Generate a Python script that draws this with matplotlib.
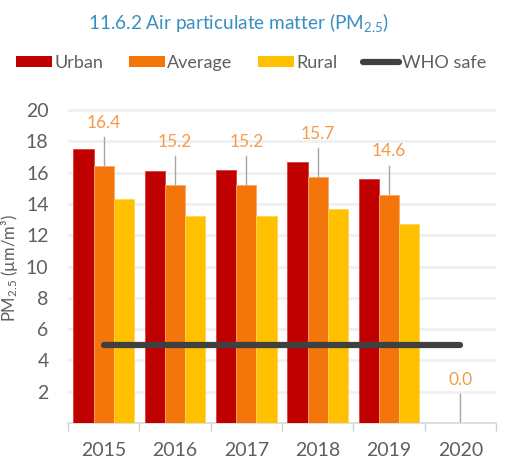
import matplotlib
matplotlib.use("Agg")
import matplotlib.pyplot as plt
import numpy as np
from matplotlib.patches import Patch
from matplotlib.lines import Line2D

years = ["2015", "2016", "2017", "2018", "2019", "2020"]
urban = [17.5, 16.1, 16.15, 16.65, 15.6, 0.0]
average = [16.4, 15.2, 15.2, 15.7, 14.6, 0.0]
rural = [14.3, 13.2, 13.25, 13.7, 12.7, 0.0]
who_safe = 5.0
yticks = [2, 4, 6, 8, 10, 12, 14, 16, 18, 20]

FONT = "Lato"
plt.rcParams["font.family"] = [FONT, "DejaVu Sans"]
plt.rcParams["mathtext.fontset"] = "custom"
plt.rcParams["mathtext.rm"] = FONT
plt.rcParams["mathtext.it"] = FONT

c_urban = "#C00000"
c_avg = "#F4760B"
c_rural = "#FFC000"
c_who = "#404040"
c_text = "#5F5F5F"
c_label = "#F79A4A"
c_title = "#3A8FC0"

fig = plt.figure(figsize=(5.10, 4.61), dpi=100)
ax = fig.add_axes([68 / 510, 1 - 423 / 461, (496 - 68) / 510, (423 - 102.2) / 461])

x = np.arange(len(years))
w = 0.285
ax.bar(x - w, urban, w, color=c_urban, edgecolor="#D84040", linewidth=0.6, zorder=3)
ax.bar(x, average, w, color=c_avg, edgecolor="#F9A869", linewidth=0.6, zorder=3)
ax.bar(x + w, rural, w, color=c_rural, edgecolor="#FFD45A", linewidth=0.6, zorder=3)

ax.plot([x[0], x[-1]], [who_safe, who_safe], color=c_who, lw=4.5,
        solid_capstyle="round", zorder=4)

off = 2.75
for xi, v in zip(x, average):
    ax.plot([xi, xi], [v, v + off - 0.9], color="#A6A6A6", lw=1.0, zorder=2)
    ax.text(xi, v + off, f"{v:.1f}", ha="center", va="center",
            color=c_label, fontsize=12.5, zorder=5)

ax.set_xlim(-0.5, len(years) - 0.5)
ax.set_ylim(0, 20.5)
ax.set_yticks(yticks)
ax.set_yticklabels([str(t) for t in yticks])
ax.yaxis.grid(True, color="#F0F0F0", lw=2.0, zorder=0)
ax.set_axisbelow(True)
ax.tick_params(axis="y", length=0, pad=14, labelsize=14, labelcolor=c_text)

ax.set_xticks(x)
ax.set_xticklabels(years)
ax.set_xticks(np.arange(-0.5, len(years)), minor=True)
ax.tick_params(axis="x", which="major", length=0, pad=14, labelsize=14, labelcolor=c_text)
ax.tick_params(axis="x", which="minor", length=6, color="#D0D0D0", width=1)

for s in ["top", "right", "left"]:
    ax.spines[s].set_visible(False)
ax.spines["bottom"].set_color("#D9D9D9")
ax.spines["bottom"].set_linewidth(1.2)

ax.set_ylabel("PM$_{2.5}$ (µm/m³)", fontsize=12, color=c_text)
ax.yaxis.set_label_coords((20 - 68) / 428, (423 - 268) / (423 - 102.2))

fig.text(238 / 510, 1 - 23 / 461, "11.6.2 Air particulate matter (PM$_{2.5}$)",
         ha="center", va="center", fontsize=13.7, color=c_title)

handles = [
    Patch(facecolor=c_urban, edgecolor="none"),
    Patch(facecolor=c_avg, edgecolor="none"),
    Patch(facecolor=c_rural, edgecolor="none"),
    Line2D([0], [0], color=c_who, lw=4.5, solid_capstyle="round"),
]
labels = ["Urban", "Average", "Rural", "WHO safe"]
leg = fig.legend(handles, labels, loc="center", bbox_to_anchor=(251 / 510, 1 - 63 / 461),
                 ncol=4, frameon=False, fontsize=13, handlelength=2.0,
                 handleheight=0.55, handletextpad=0.15, columnspacing=1.4)
for t in leg.get_texts():
    t.set_color(c_text)

fig.savefig("out.png", dpi=100)
